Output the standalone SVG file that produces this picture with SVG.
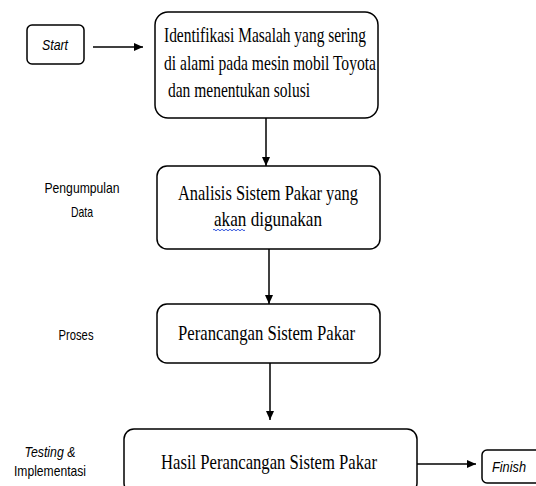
<svg xmlns="http://www.w3.org/2000/svg" width="536" height="486" viewBox="0 0 536 486">
<style>
.box{fill:#fff;stroke:#000;stroke-width:1.5}
.t{font-family:"Liberation Serif",serif;font-size:22px;fill:#000}
.s{font-family:"Liberation Sans",sans-serif;font-size:15px;fill:#000}
.i{font-family:"Liberation Sans",sans-serif;font-size:15px;font-style:italic;fill:#000}
.c{stroke:#000;stroke-width:1.5;fill:none}
</style>
<defs>
<marker id="ah" markerWidth="10" markerHeight="10" refX="9" refY="4" orient="auto" markerUnits="userSpaceOnUse">
<path d="M0,0 L9,4 L0,8 Z" fill="#000"/>
</marker>
</defs>
<rect width="536" height="486" fill="#fff"/>
<g id="start">
<rect class="box" x="27" y="25" width="57" height="39" rx="5"/>
<text class="i" x="55" y="50" text-anchor="middle" textLength="26" lengthAdjust="spacingAndGlyphs">Start</text>
</g>
<g id="n1">
<rect class="box" x="155" y="12" width="223" height="106" rx="13"/>
<text class="t" x="164" y="42" textLength="202" lengthAdjust="spacingAndGlyphs">Identifikasi Masalah yang sering</text>
<text class="t" x="164" y="70" textLength="212" lengthAdjust="spacingAndGlyphs">di alami pada mesin mobil Toyota</text>
<text class="t" x="168" y="97" textLength="142" lengthAdjust="spacingAndGlyphs">dan menentukan solusi</text>
</g>
<g id="lbl1">
<text class="s" x="82" y="193" text-anchor="middle" textLength="75" lengthAdjust="spacingAndGlyphs">Pengumpulan</text>
<text class="s" x="82" y="217" text-anchor="middle" textLength="22" lengthAdjust="spacingAndGlyphs">Data</text>
</g>
<g id="n2">
<rect class="box" x="157" y="166" width="223" height="83" rx="10"/>
<text class="t" x="178" y="200" textLength="180" lengthAdjust="spacingAndGlyphs">Analisis Sistem  Pakar yang</text>
<text class="t" x="214" y="226" textLength="108" lengthAdjust="spacingAndGlyphs">akan digunakan</text>
<path d="M213,230 q1,-1.5 2,0 t2,0 t2,0 t2,0 t2,0 t2,0 t2,0 t2,0 t2,0 t2,0 t2,0 t2,0 t2,0 t2,0 t2,0 t2,0" fill="none" stroke="#3355dd" stroke-width="1"/>
</g>
<g id="lbl2">
<text class="s" x="76" y="340" text-anchor="middle" textLength="35" lengthAdjust="spacingAndGlyphs">Proses</text>
</g>
<g id="n3">
<rect class="box" x="157" y="304" width="223" height="59" rx="10"/>
<text class="t" x="178" y="340" textLength="177" lengthAdjust="spacingAndGlyphs">Perancangan Sistem  Pakar</text>
</g>
<g id="lbl3">
<text class="i" x="50" y="457" text-anchor="middle" textLength="51" lengthAdjust="spacingAndGlyphs">Testing &amp;</text>
<text class="s" x="50" y="476" text-anchor="middle" textLength="72" lengthAdjust="spacingAndGlyphs">Implementasi</text>
</g>
<g id="n4">
<rect class="box" x="124" y="429" width="293" height="64" rx="10"/>
<text class="t" x="161" y="469" textLength="216" lengthAdjust="spacingAndGlyphs">Hasil Perancangan Sistem  Pakar</text>
</g>
<g id="finish">
<rect class="box" x="482" y="450" width="70" height="33" rx="5"/>
<text class="i" x="492" y="472" textLength="34" lengthAdjust="spacingAndGlyphs">Finish</text>
</g>
<g id="connectors">
<line class="c" x1="93" y1="47" x2="143" y2="47" marker-end="url(#ah)"/>
<line class="c" x1="266" y1="118" x2="266" y2="166" marker-end="url(#ah)"/>
<line class="c" x1="269" y1="249" x2="269" y2="304" marker-end="url(#ah)"/>
<line class="c" x1="270" y1="363" x2="270" y2="420" marker-end="url(#ah)"/>
<line class="c" x1="417" y1="464" x2="476" y2="464" marker-end="url(#ah)"/>
</g>
</svg>
